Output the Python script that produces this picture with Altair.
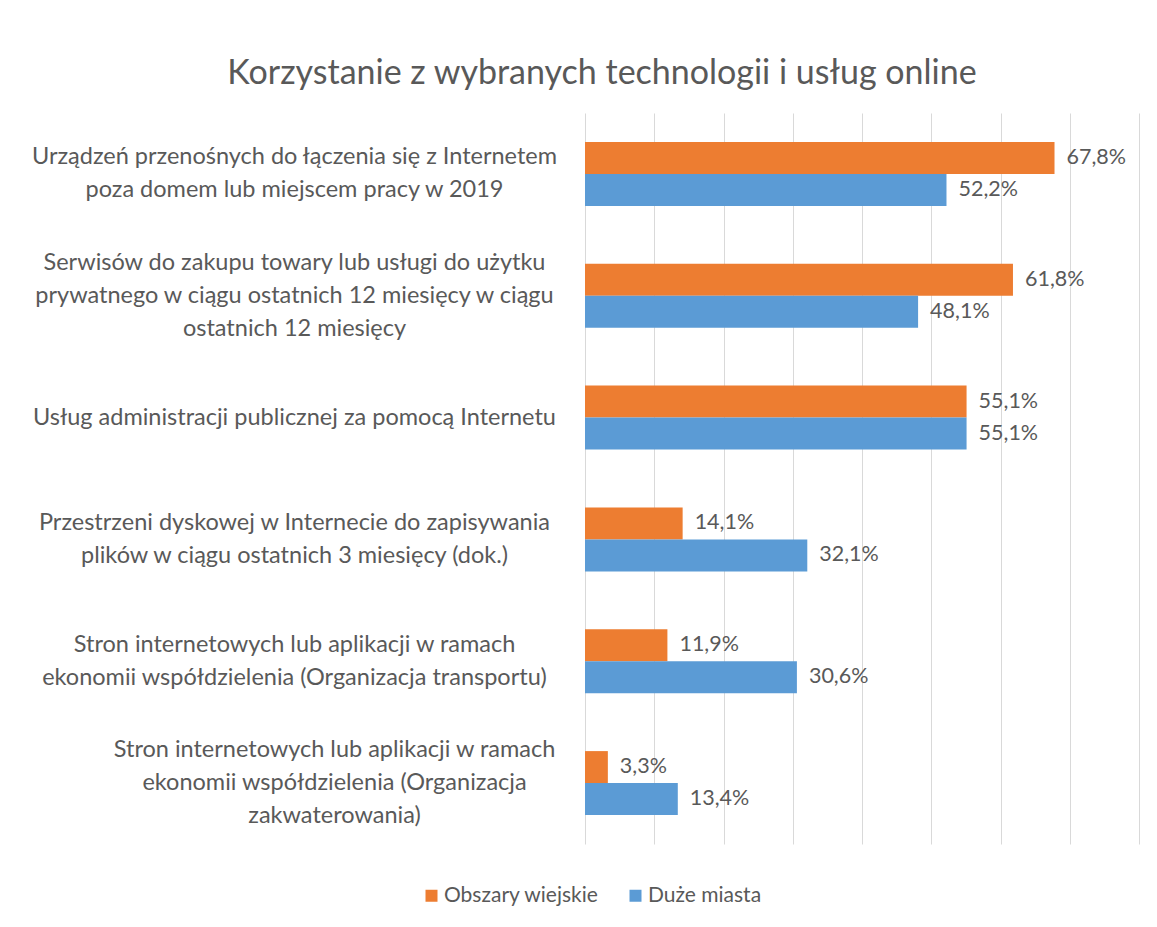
import altair as alt
import pandas as pd

categories = [
    "Urządzeń przenośnych do łączenia się z Internetem|poza domem lub miejscem pracy w 2019",
    "Serwisów do zakupu towary lub usługi do użytku|prywatnego w ciągu ostatnich 12 miesięcy w ciągu|ostatnich 12 miesięcy",
    "Usług administracji publicznej za pomocą Internetu",
    "Przestrzeni dyskowej w Internecie do zapisywania|plików w ciągu ostatnich 3 miesięcy (dok.)",
    "Stron internetowych lub aplikacji w ramach|ekonomii współdzielenia (Organizacja transportu)",
    "Stron internetowych lub aplikacji w ramach|ekonomii współdzielenia (Organizacja|zakwaterowania)",
]
series = ["Obszary wiejskie", "Duże miasta"]
rural = [67.8, 61.8, 55.1, 14.1, 11.9, 3.3]
cities = [52.2, 48.1, 55.1, 32.1, 30.6, 13.4]
colors = ["#ED7D31", "#5B9BD5"]
grid_values = [0, 10, 20, 30, 40, 50, 60, 70, 80]

rows = []
for c, r, u in zip(categories, rural, cities):
    rows.append({"cat": c, "series": series[0], "value": r})
    rows.append({"cat": c, "series": series[1], "value": u})
df = pd.DataFrame(rows)

TXT = "#595959"
FONT = "Lato"
LINE_H = 33

y_enc = alt.Y(
    "cat:N",
    sort=categories,
    scale=alt.Scale(paddingInner=0.4745, paddingOuter=0.237),
    axis=alt.Axis(
        title=None,
        labelExpr="split(datum.label, '|')",
        labelFontSize=23.5,
        labelColor=TXT,
        labelFont=FONT,
        labelLimit=0,
        labelAlign="center",
        labelLineHeight=LINE_H,
        labelPadding={
            "condition": {"test": "indexof(datum.value, 'zakwaterowania') >= 0", "value": 251},
            "value": 291,
        },
        labelOffset={
            "condition": [
                {"test": "length(split(datum.value, '|')) == 3", "value": -LINE_H},
                {"test": "length(split(datum.value, '|')) == 2", "value": -LINE_H / 2},
            ],
            "value": 0,
        },
        ticks=False,
        tickSize=0,
        domain=False,
        grid=False,
    ),
)
yoff = alt.YOffset("series:N", sort=series)

x_enc = alt.X(
    "value:Q",
    scale=alt.Scale(domain=[0, 80], nice=False),
    axis=alt.Axis(
        title=None,
        labels=False,
        ticks=False,
        domain=False,
        grid=True,
        values=grid_values,
        gridColor="#D9D9D9",
        gridWidth=1,
    ),
)

base = alt.Chart(df)

bars = base.mark_bar().encode(
    x=x_enc,
    y=y_enc,
    yOffset=yoff,
    color=alt.Color(
        "series:N",
        sort=series,
        scale=alt.Scale(domain=series, range=colors),
        legend=alt.Legend(
            title=None,
            orient="none",
            direction="horizontal",
            legendX=-164,
            legendY=772,
            symbolType="square",
            symbolSize=144,
            symbolStrokeWidth=0,
            labelFontSize=21,
            labelColor=TXT,
            labelFont=FONT,
            labelOffset=2,
            columnPadding=26,
        ),
    ),
)

labels = base.transform_calculate(
    lbl="replace(format(datum.value, '.1f'), '.', ',') + '%'"
).mark_text(align="left", baseline="middle", dx=12, fontSize=21.5, color=TXT, font=FONT).encode(
    x="value:Q",
    y=alt.Y("cat:N", sort=categories),
    yOffset=yoff,
    text="lbl:N",
)

chart = (
    alt.layer(bars, labels)
    .properties(
        width=554,
        height=731,
        title=alt.TitleParams(
            "Korzystanie z wybranych technologii i usług online",
            fontSize=34,
            font=FONT,
            fontWeight="normal",
            color=TXT,
            anchor="middle",
            frame="group",
            dx=-260,
            dy=30,
            baseline="alphabetic",
            offset=25,
        ),
        autosize=alt.AutoSizeParams(type="none"),
        padding={"left": 577, "top": 105, "right": 10, "bottom": 75},
        background="white",
    )
    .configure_view(stroke=None)
)

chart.save("out.html", embed_options={"renderer": "svg", "actions": False})
